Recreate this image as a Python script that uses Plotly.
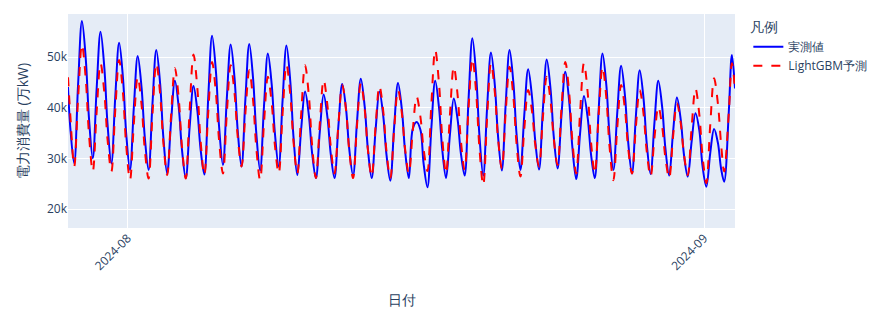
import pandas as pd
import plotly.graph_objects as go

# ---- time structure (hours of readings per day) ----
first_day = "2024-07-28"
first_hours = [19, 22]
full_days = pd.date_range("2024-07-29", "2024-09-01", freq="D")
day_hours = [3, 8, 13, 18, 22]
last_day = "2024-09-02"
last_hours = [2, 8, 12, 16]

# ---- actual values (万kW) ----
actual_first = [44100, 36000]
actual_days = [
    [29000, 44500, 57100, 49500, 38100],  # 07-29
    [30000, 43800, 55000, 47700, 36800],
    [29000, 42100, 52800, 45800, 35200],
    [27700, 40100, 50200, 43900, 34400],  # 08-01
    [27700, 40700, 51400, 44600, 34300],
    [27000, 37100, 45300, 40000, 31900],
    [26100, 36100, 44300, 39400, 32000],
    [26800, 41900, 54200, 47100, 36300],
    [28700, 41800, 52500, 45800, 35600],
    [28400, 41700, 52600, 45600, 35100],
    [27600, 40300, 50700, 44500, 35100],
    [28400, 41500, 52300, 45100, 34400],
    [26700, 35800, 43200, 38400, 31200],
    [26100, 35200, 42600, 38000, 31100],
    [26100, 36300, 44700, 39600, 31900],
    [26600, 37100, 45700, 40200, 32000],
    [26100, 35500, 43200, 38300, 30900],
    [25600, 36200, 44900, 39600, 31700],
    [26100, 35800, 37200, 35600, 29000],  # 08-16
    [24300, 35900, 45300, 39900, 31900],
    [26100, 34700, 41800, 37600, 31200],
    [26600, 41500, 53700, 46100, 34700],
    [26600, 40000, 50900, 44400, 34600],
    [27600, 40700, 51400, 44800, 34800],
    [27700, 38600, 47600, 42100, 33700],
    [27800, 39700, 49500, 43500, 34400],
    [28000, 38500, 47100, 41200, 32300],
    [25900, 34900, 42300, 37800, 31000],
    [26100, 39600, 50700, 44300, 34600],
    [27700, 39000, 48300, 42300, 33400],
    [27000, 38200, 47400, 41700, 33000],
    [26900, 37000, 45300, 40100, 32200],
    [26600, 35100, 42000, 37600, 30900],
    [26400, 33300, 38900, 35500, 28600],  # 08-31
    [24400, 31000, 35800, 33000, 28000],  # 09-01
]
actual_last = [25400, 39200, 50400, 43800]

# ---- LightGBM predictions (万kW) ----
pred_first = [46000, 38500]
pred_days = [
    [28400, 41700, 52500, 45500, 34900],  # 07-29
    [27400, 39200, 48800, 42800, 33800],
    [27400, 39500, 49400, 42800, 32800],
    [25700, 36900, 46100, 40500, 32000],  # 08-01
    [26000, 38500, 48800, 42600, 33300],
    [26700, 38300, 47800, 41700, 32500],
    [26000, 39500, 50500, 43800, 33800],
    [26700, 39000, 49000, 42800, 33600],
    [27000, 38800, 48400, 42800, 34400],
    [28400, 38900, 47400, 41300, 32200],
    [25700, 36900, 46100, 40800, 32700],
    [27000, 38800, 48500, 42500, 33500],
    [27000, 38800, 48400, 42200, 32800],
    [26100, 36800, 45500, 40300, 32600],
    [27000, 36600, 44500, 39400, 31600],
    [26100, 36400, 44800, 39700, 31900],
    [26400, 36200, 44300, 39200, 31600],
    [26100, 35700, 43500, 38900, 32000],
    [27000, 35400, 42200, 38100, 31900],  # 08-16
    [27500, 40600, 51400, 44600, 34300],
    [27000, 38600, 48100, 42400, 33800],
    [27700, 39800, 49700, 42700, 32200],
    [24700, 38000, 48800, 43000, 34200],
    [28000, 39100, 48100, 42000, 32900],
    [26400, 35800, 43500, 39300, 32900],
    [28400, 38100, 46100, 41200, 33900],
    [28700, 39900, 49000, 42800, 33600],
    [27000, 39000, 48800, 42700, 33500],
    [27000, 38600, 48100, 41800, 32400],
    [25700, 36000, 44500, 39600, 32200],
    [27000, 36100, 43500, 38700, 31500],
    [26400, 34000, 40200, 36300, 30300],
    [26100, 34200, 40900, 36900, 30900],
    [26700, 36100, 43800, 38600, 30700],  # 08-31
    [25100, 36500, 45800, 40700, 32900],  # 09-01
]
pred_last = [27400, 39000, 48800, 43500]

# ---- assemble series ----
times, actual, pred = [], [], []
for h, a, p in zip(first_hours, actual_first, pred_first):
    times.append(pd.Timestamp(first_day) + pd.Timedelta(hours=h))
    actual.append(a)
    pred.append(p)
for d, arow, prow in zip(full_days, actual_days, pred_days):
    for h, a, p in zip(day_hours, arow, prow):
        times.append(d + pd.Timedelta(hours=h))
        actual.append(a)
        pred.append(p)
for h, a, p in zip(last_hours, actual_last, pred_last):
    times.append(pd.Timestamp(last_day) + pd.Timedelta(hours=h))
    actual.append(a)
    pred.append(p)

fig = go.Figure()
fig.add_trace(go.Scatter(
    x=times, y=actual, mode="lines", name="実測値",
    line=dict(color="blue", width=2, shape="spline", smoothing=1.0),
))
fig.add_trace(go.Scatter(
    x=times, y=pred, mode="lines", name="LightGBM予測",
    line=dict(color="red", width=2, dash="dash", shape="spline", smoothing=1.0),
))

fig.update_layout(
    width=876, height=311,
    template="plotly",
    margin=dict(l=68, r=141, t=14, b=83, autoexpand=False),
    legend=dict(title=dict(text="凡例")),
    xaxis=dict(title=dict(text="日付", standoff=22), tickangle=-45, dtick="M1",
               tickformat="%Y-%m"),
    yaxis=dict(title=dict(text="電力消費量 (万kW)"), range=[16250, 58500]),
)

fig.write_html("out.html")
